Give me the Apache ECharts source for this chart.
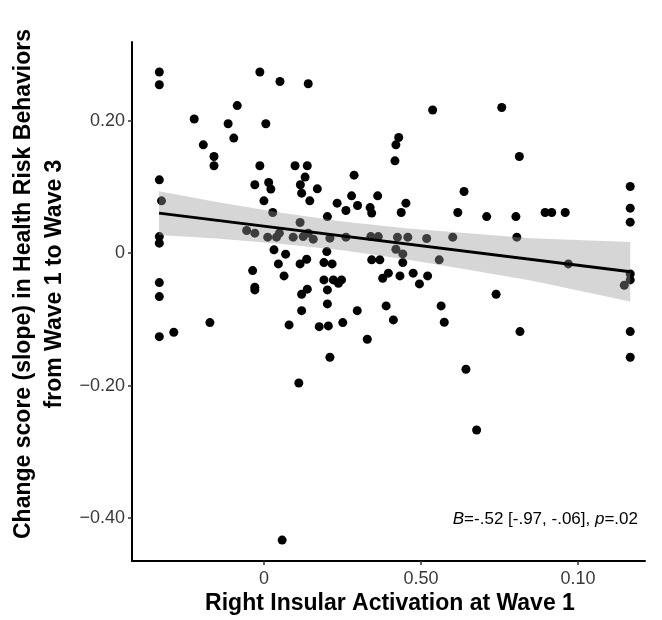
<!DOCTYPE html>
<html>
<head>
<meta charset="utf-8">
<script src="https://cdn.jsdelivr.net/npm/echarts@6.0.0/dist/echarts.min.js"></script>
<style>
  html, body { margin: 0; padding: 0; background: #fff; }
  #chart { width: 662px; height: 620px; }
</style>
</head>
<body>
<div id="chart"></div>
<script>
// scatter points [activation, change score]
const points = [
  [-0.0333, 0.2736], [-0.0333, 0.2544], [-0.0013, 0.2736], [0.0051, 0.2594], [0.0141, 0.2559],
  [-0.0085, 0.2229], [-0.0222, 0.2026], [-0.0114, 0.1955], [0.0006, 0.1955], [-0.0096, 0.1738],
  [-0.0193, 0.1637], [-0.0159, 0.1460], [-0.0159, 0.1320], [-0.0013, 0.1320], [0.0099, 0.1320],
  [0.0138, 0.1320], [-0.0333, 0.1108], [0.0131, 0.1149], [0.0287, 0.1179], [-0.0029, 0.1033],
  [0.0015, 0.1067], [0.0022, 0.0968], [0.0116, 0.1033], [0.0120, 0.0907], [0.0170, 0.0972],
  [0.0000, 0.0791], [0.0146, 0.0791], [0.0233, 0.0756], [0.0279, 0.0866], [0.0298, 0.0720],
  [0.0362, 0.0866], [0.0261, 0.0644], [0.0338, 0.0689], [0.0343, 0.0605], [-0.0326, 0.0791],
  [0.0028, 0.0614], [0.0202, 0.0553], [0.0537, 0.2162], [0.0757, 0.2201], [0.0429, 0.1748],
  [0.0420, 0.1637], [0.0417, 0.1395], [0.0813, 0.1460], [0.0452, 0.0756], [0.0637, 0.0931],
  [0.1166, 0.1007], [0.1166, 0.0680], [0.0437, 0.0614], [0.0617, 0.0614], [0.0709, 0.0553],
  [0.0802, 0.0553], [0.0895, 0.0614], [0.0916, 0.0614], [0.0959, 0.0614], [0.1166, 0.0469],
  [0.0364, 0.0251], [0.0340, 0.0251], [0.0425, 0.0242], [0.0458, 0.0242], [0.0518, 0.0221],
  [0.0601, 0.0242], [0.0805, 0.0242], [0.0420, 0.0060], [0.0442, -0.0011], [0.0558, -0.0101],
  [0.0969, -0.0162], [0.0343, -0.0101], [0.0369, -0.0101], [0.0442, -0.0142], [0.0396, -0.0302],
  [0.0378, -0.0378], [0.0433, -0.0343], [0.0475, -0.0302], [0.0521, -0.0343], [0.0495, -0.0464],
  [0.1166, -0.0313], [0.1166, -0.0404], [0.1147, -0.0484], [0.0739, -0.0620], [0.0389, -0.0797],
  [0.0564, -0.0797], [0.0412, -0.1008], [0.0574, -0.1043], [0.0815, -0.1185], [0.1166, -0.1185],
  [0.1166, -0.1572], [0.0643, -0.1754], [0.0115, 0.0463], [-0.0333, 0.0251], [-0.0333, 0.0151],
  [-0.0055, 0.0342], [-0.0029, 0.0302], [0.0012, 0.0242], [0.0040, 0.0242], [0.0049, 0.0302],
  [0.0093, 0.0242], [0.0125, 0.0251], [0.0141, 0.0302], [0.0157, 0.0212], [0.0210, 0.0227],
  [0.0261, 0.0242], [0.0032, 0.0050], [0.0069, -0.0015], [0.0200, 0.0024], [0.0115, -0.0162],
  [0.0136, -0.0091], [0.0191, -0.0142], [0.0217, -0.0162], [0.0046, -0.0162], [-0.0036, -0.0263],
  [0.0064, -0.0343], [-0.0333, -0.0444], [-0.0333, -0.0656], [-0.0029, -0.0514], [-0.0029, -0.0555],
  [0.0191, -0.0404], [0.0221, -0.0404], [0.0237, -0.0454], [0.0247, -0.0404], [0.0138, -0.0544],
  [0.0120, -0.0620], [0.0202, -0.0555], [0.0202, -0.0766], [0.0120, -0.0868], [0.0297, -0.0868],
  [-0.0172, -0.1049], [0.0080, -0.1084], [0.0176, -0.1110], [0.0205, -0.1099], [0.0251, -0.1049],
  [-0.0333, -0.1261], [-0.0287, -0.1194], [0.0329, -0.1300], [0.0210, -0.1572], [0.0111, -0.1961],
  [0.0677, -0.2671], [0.0058, -0.4334]
];

// fitted line and confidence band
const bandX = [-0.0334, -0.015, 0.005, 0.025, 0.045, 0.065, 0.085, 0.1166];
const bandLower = [0.0275, 0.0222, 0.0144, 0.0044, -0.0092, -0.025, -0.0413, -0.073];
const bandUpper = [0.0935, 0.0772, 0.0614, 0.0478, 0.0378, 0.030, 0.0227, 0.017];
const fitX = [-0.0334, 0.1166];
const fitY = [0.0605, -0.028];

const xTickValues = [0, 0.05, 0.10];
const xTickLabels = ['0', '0.50', '0.10'];
const yTickValues = [-0.4, -0.2, 0, 0.2];
const yTickLabels = ['\u22120.40', '\u22120.20', '0', '0.20'];

const FONT = '"Liberation Sans", Arial, sans-serif';

const chart = echarts.init(document.getElementById('chart'));

function pickLabel(values, labels, v) {
  for (let i = 0; i < values.length; i++) {
    if (Math.abs(values[i] - v) < 1e-6) return labels[i];
  }
  return '';
}

chart.setOption({
  animation: false,
  grid: { left: 132, right: 17, top: 42, bottom: 59 },
  xAxis: {
    type: 'value',
    min: -0.042,
    max: 0.1213,
    splitLine: { show: false },
    axisLine: { onZero: false, lineStyle: { color: '#000', width: 2 } },
    axisTick: { customValues: xTickValues, length: 4, lineStyle: { color: '#333', width: 1.5 } },
    axisLabel: {
      customValues: xTickValues,
      formatter: (v) => pickLabel(xTickValues, xTickLabels, v),
      color: '#3a3a3a', fontSize: 18, fontFamily: FONT, margin: 9
    }
  },
  yAxis: {
    type: 'value',
    min: -0.465,
    max: 0.319,
    splitLine: { show: false },
    axisLine: { show: true, onZero: false, lineStyle: { color: '#000', width: 2 } },
    axisTick: { show: true, customValues: yTickValues, length: 4, lineStyle: { color: '#333', width: 1.5 } },
    axisLabel: {
      customValues: yTickValues,
      formatter: (v) => pickLabel(yTickValues, yTickLabels, v),
      color: '#3a3a3a', fontSize: 18, fontFamily: FONT, margin: 7
    }
  },
  series: [
    {
      type: 'scatter',
      data: points,
      symbolSize: 9,
      itemStyle: { color: '#000', opacity: 1 },
      z: 2
    },
    {
      type: 'custom',
      data: [[bandX[0], bandLower[0]]],
      renderItem: (params, api) => {
        const pts = [];
        for (let i = 0; i < bandX.length; i++) pts.push(api.coord([bandX[i], bandUpper[i]]));
        for (let i = bandX.length - 1; i >= 0; i--) pts.push(api.coord([bandX[i], bandLower[i]]));
        return {
          type: 'polygon',
          shape: { points: pts },
          style: { fill: 'rgba(153,153,153,0.4)' }
        };
      },
      z: 3
    },
    {
      type: 'line',
      data: fitX.map((x, i) => [x, fitY[i]]),
      symbol: 'none',
      lineStyle: { color: '#000', width: 3 },
      z: 4
    }
  ],
  graphic: [
    {
      type: 'text',
      x: 39, y: 284,
      rotation: Math.PI / 2,
      style: {
        text: 'Change score (slope) in Health Risk Behaviors\nfrom Wave 1 to Wave 3',
        font: 'bold 23px ' + FONT,
        fill: '#000',
        align: 'center',
        verticalAlign: 'middle',
        lineHeight: 31
      }
    },
    {
      type: 'text',
      x: 390, y: 604,
      style: {
        text: 'Right Insular Activation at Wave 1',
        font: 'bold 23px ' + FONT,
        fill: '#000',
        align: 'center',
        verticalAlign: 'middle'
      }
    },
    {
      type: 'text',
      x: 638, y: 519,
      style: {
        text: '{i|B}=-.52 [-.97, -.06], {i|p}=.02',
        font: '17px ' + FONT,
        fill: '#000',
        align: 'right',
        verticalAlign: 'middle',
        rich: {
          i: { fontStyle: 'italic', fontSize: 17, fontFamily: FONT, fill: '#000' }
        }
      }
    }
  ]
});
</script>
</body>
</html>
